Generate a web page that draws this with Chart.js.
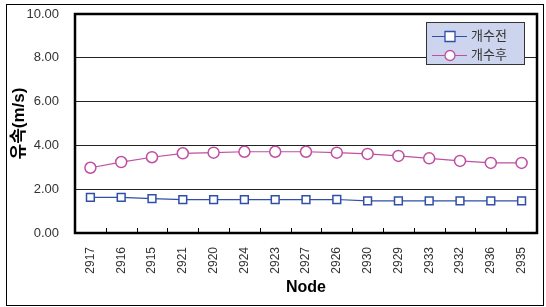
<!DOCTYPE html>
<html>
<head>
<meta charset="utf-8">
<script src="https://cdn.jsdelivr.net/npm/chart.js@4"></script>
<style>
  html, body { margin: 0; padding: 0; background: #fff; }
  #wrap { width: 546px; height: 307px; }
</style>
</head>
<body>
<div id="wrap"><canvas id="velChart" width="546" height="307"></canvas></div>
<script>
// 절점 번호 (x축)
const nodes = ['2917', '2916', '2915', '2921', '2920', '2924', '2923', '2927',
               '2926', '2930', '2929', '2933', '2932', '2936', '2935'];

// 유속 값 (m/s)
const before = [1.63, 1.63, 1.57, 1.52, 1.52, 1.52, 1.52, 1.52,
                1.53, 1.47, 1.47, 1.47, 1.47, 1.47, 1.47];
const after = [2.98, 3.24, 3.46, 3.64, 3.67, 3.71, 3.71, 3.71,
               3.67, 3.61, 3.52, 3.41, 3.29, 3.20, 3.20];

const yTicks = [0, 2, 4, 6, 8, 10];

const FONT = '"Liberation Sans", Arial, "Noto Sans CJK KR", sans-serif';
const BLUE = '#2f4fa8';
const PINK = '#c04fa0';

// 바깥 테두리와 플롯 테두리, x축 안쪽 눈금
const framePlugin = {
    id: 'frame',
    beforeDraw(chart) {
        const ctx = chart.ctx;
        ctx.save();
        ctx.fillStyle = '#fff';
        ctx.fillRect(0, 0, chart.width, chart.height);
        ctx.strokeStyle = '#000';
        ctx.lineWidth = 1;
        ctx.strokeRect(6.5, 4.5, 537, 301);
        ctx.restore();
    },
    afterDatasetsDraw(chart) {
        const ctx = chart.ctx;
        const a = chart.chartArea;
        const xs = chart.scales.x;
        ctx.save();
        ctx.strokeStyle = '#000';
        ctx.lineWidth = 1;
        ctx.beginPath();
        for (let i = 1; i < nodes.length; i++) {
            const x = Math.round((xs.getPixelForTick(i - 1) + xs.getPixelForTick(i)) / 2) + 0.5;
            ctx.moveTo(x, a.bottom);
            ctx.lineTo(x, a.bottom - 5);
        }
        ctx.stroke();
        ctx.lineWidth = 2.5;
        ctx.strokeRect(a.left, a.top, a.right - a.left, a.bottom - a.top);
        ctx.restore();
    }
};

// 범례 상자
const legendPlugin = {
    id: 'boxLegend',
    afterDraw(chart) {
        const ctx = chart.ctx;
        const bx = 426, by = 22, bw = 98, bh = 42;
        ctx.save();
        ctx.fillStyle = '#cdd5ee';
        ctx.fillRect(bx, by, bw, bh);
        ctx.strokeStyle = '#333';
        ctx.lineWidth = 1;
        ctx.strokeRect(bx + 0.5, by + 0.5, bw, bh);
        chart.data.datasets.forEach((ds, i) => {
            const y = by + 14.5 + i * 19;
            ctx.strokeStyle = ds.borderColor;
            ctx.lineWidth = 1;
            ctx.beginPath();
            ctx.moveTo(432, y);
            ctx.lineTo(467, y);
            ctx.stroke();
            ctx.fillStyle = '#fff';
            ctx.lineWidth = 1.3;
            ctx.beginPath();
            if (ds.pointStyle === 'rect') {
                ctx.rect(445, y - 5, 10, 10);
            } else {
                ctx.arc(450, y, 5, 0, Math.PI * 2);
            }
            ctx.fill();
            ctx.stroke();
            ctx.fillStyle = '#333';
            ctx.font = '13px ' + FONT;
            ctx.textBaseline = 'middle';
            ctx.fillText(ds.label, 471, y);
        });
        ctx.restore();
    }
};

new Chart(document.getElementById('velChart'), {
    type: 'line',
    data: {
        labels: nodes,
        datasets: [
            {
                label: '개수전',
                data: before,
                borderColor: BLUE,
                backgroundColor: '#fff',
                borderWidth: 1.2,
                pointStyle: 'rect',
                pointRadius: 5.5,
                pointBorderWidth: 1.5,
                pointBorderColor: BLUE,
                pointBackgroundColor: '#fff',
                tension: 0
            },
            {
                label: '개수후',
                data: after,
                borderColor: PINK,
                backgroundColor: '#fff',
                borderWidth: 1.2,
                pointStyle: 'circle',
                pointRadius: 5.5,
                pointBorderWidth: 1.5,
                pointBorderColor: PINK,
                pointBackgroundColor: '#fff',
                tension: 0
            }
        ]
    },
    options: {
        responsive: false,
        animation: false,
        devicePixelRatio: 1,
        layout: { padding: { left: 9, top: 14, right: 9, bottom: 0 } },
        plugins: {
            legend: { display: false },
            tooltip: { enabled: false }
        },
        scales: {
            x: {
                offset: true,
                grid: { display: false, offset: true },
                border: { display: false },
                ticks: {
                    minRotation: 90,
                    maxRotation: 90,
                    autoSkip: false,
                    padding: 6,
                    color: '#333',
                    font: { family: FONT, size: 12 }
                },
                title: {
                    display: true,
                    text: 'Node',
                    color: '#000',
                    padding: { top: 4, bottom: 10 },
                    font: { family: FONT, size: 16, weight: 'bold' }
                },
                afterFit(scale) {
                    scale.height = 74;
                    scale.paddingLeft = 0;
                    scale.paddingRight = 0;
                }
            },
            y: {
                min: 0,
                max: 10,
                afterBuildTicks(scale) { scale.ticks = yTicks.map(v => ({ value: v })); },
                grid: {
                    color: ctx => (ctx.tick.value === 0 || ctx.tick.value === 10) ? 'rgba(0,0,0,0)' : '#222',
                    lineWidth: 1,
                    drawTicks: false
                },
                border: { display: false },
                ticks: {
                    padding: 16,
                    color: '#333',
                    font: { family: FONT, size: 13 },
                    callback: v => v.toFixed(2)
                },
                title: {
                    display: true,
                    text: '유속(m/s)',
                    color: '#000',
                    padding: { top: 0, bottom: 0 },
                    font: { family: FONT, size: 17, weight: 'bold' }
                },
                afterFit(scale) {
                    scale.width = 66;
                    scale.paddingTop = 0;
                    scale.paddingBottom = 0;
                }
            }
        }
    },
    plugins: [framePlugin, legendPlugin]
});
</script>
</body>
</html>
